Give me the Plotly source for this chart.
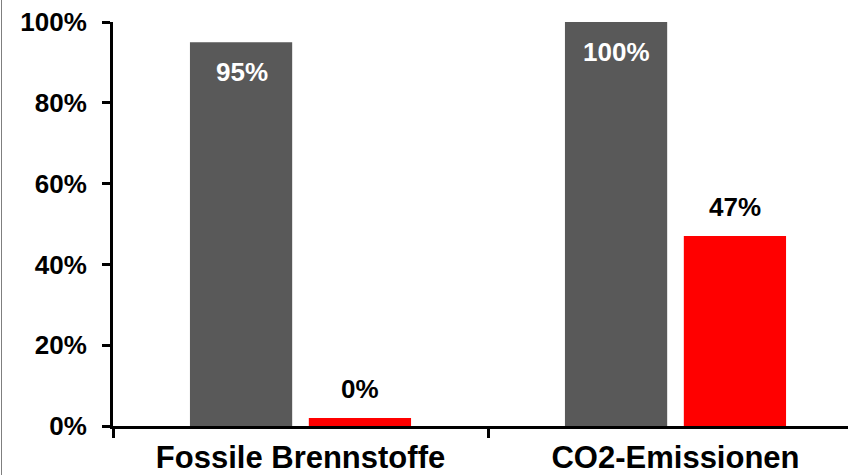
import plotly.graph_objects as go

categories = ["Fossile Brennstoffe", "CO2-Emissionen"]
gray_values = [95, 100]
red_values = [2, 47]
gray_labels = ["95%", "100%"]
red_labels = ["0%", "47%"]
y_ticks = [0, 20, 40, 60, 80, 100]
y_tick_labels = ["0%", "20%", "40%", "60%", "80%", "100%"]

GRAY = "#595959"
RED = "#ff0000"
FONT = "Liberation Sans"

fig = go.Figure()
fig.add_trace(go.Bar(x=categories, y=gray_values, marker=dict(color=GRAY, line=dict(width=0)),
                     hoverinfo="skip", showlegend=False))
fig.add_trace(go.Bar(x=categories, y=red_values, marker=dict(color=RED, line=dict(width=0)),
                     hoverinfo="skip", showlegend=False))

annotations = []
for cat, v, t in zip(categories, gray_values, gray_labels):
    annotations.append(dict(x=cat, y=v, xref="x", yref="y", text=t, showarrow=False,
                            xshift=-59, yshift=-13, yanchor="top",
                            font=dict(family=FONT, size=26, color="#ffffff", weight="bold")))
for cat, v, t in zip(categories, red_values, red_labels):
    annotations.append(dict(x=cat, y=v, xref="x", yref="y", text=t, showarrow=False,
                            xshift=59, yshift=12, yanchor="bottom",
                            font=dict(family=FONT, size=26, color="#000000", weight="bold")))

fig.update_layout(
    width=848, height=475,
    margin=dict(l=113, r=0, t=22, b=49),
    paper_bgcolor="white", plot_bgcolor="white",
    barmode="group", bargap=0.366, bargroupgap=0.14,
    annotations=annotations,
    shapes=[dict(type="line", xref="paper", yref="paper",
                 x0=-111.5 / 735, x1=-111.5 / 735, y0=-49 / 404, y1=1 + 22 / 404,
                 line=dict(color="#7f7f7f", width=1))],
    xaxis=dict(range=[-0.5, 1.46], showline=True, linecolor="black", linewidth=3,
               ticks="outside", tickson="boundaries", ticklen=9, tickwidth=3, tickcolor="black",
               showgrid=False, zeroline=False, automargin=False, ticklabelstandoff=2,
               tickfont=dict(family=FONT, size=31, color="black", weight="bold")),
    yaxis=dict(range=[0, 100], tickvals=y_ticks, ticktext=y_tick_labels, showline=True,
               linecolor="black", linewidth=3, ticks="outside", ticklen=8, tickwidth=3,
               tickcolor="black", showgrid=False, zeroline=False, ticklabelstandoff=10,
               automargin=False,
               tickfont=dict(family=FONT, size=26, color="black", weight="bold")),
)

fig.write_html("out.html", config={"displayModeBar": False},
               post_script="document.body.style.margin='0';document.body.style.overflow='hidden';")
